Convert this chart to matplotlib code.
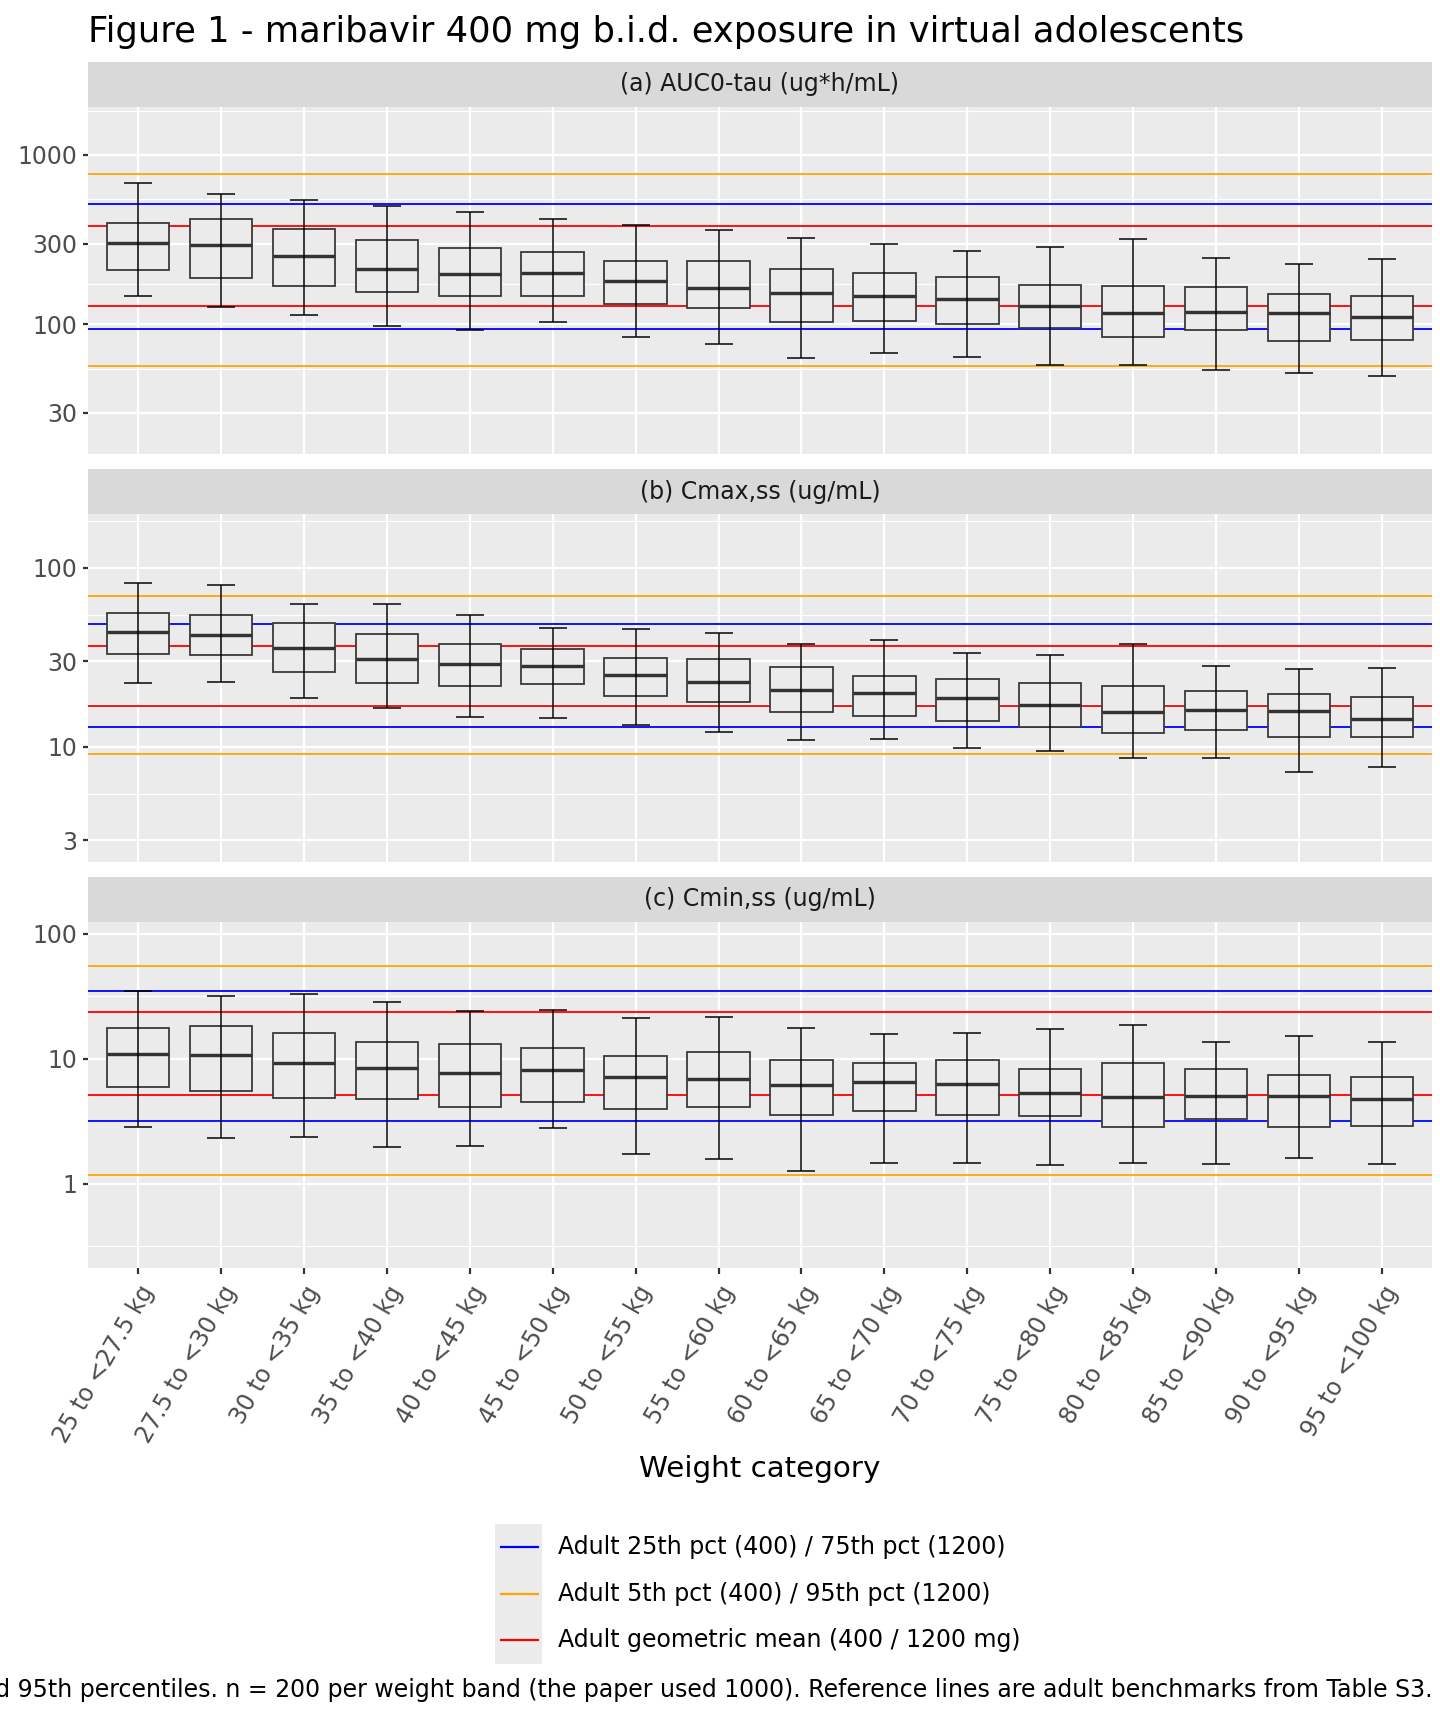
import matplotlib
matplotlib.use("Agg")
import numpy as np
import matplotlib.pyplot as plt
from matplotlib.ticker import FixedLocator, FixedFormatter, NullFormatter
from matplotlib.patches import Rectangle
from matplotlib.lines import Line2D

# ---------------- data ----------------
categories = ["25 to <27.5 kg", "27.5 to <30 kg", "30 to <35 kg", "35 to <40 kg",
              "40 to <45 kg", "45 to <50 kg", "50 to <55 kg", "55 to <60 kg",
              "60 to <65 kg", "65 to <70 kg", "70 to <75 kg", "75 to <80 kg",
              "80 to <85 kg", "85 to <90 kg", "90 to <95 kg", "95 to <100 kg"]

auc_p5 = [146, 126, 113, 97.7, 93, 103, 84.5, 76.2, 63, 67.8, 63.8, 57.8, 57.5, 53.5, 51.9, 49.8]
auc_q1 = [209, 189, 168, 156, 146, 147, 132, 125, 103, 105, 100, 95, 84, 92.7, 80.2, 81.1]
auc_med = [302, 293, 252, 212, 199, 201, 181, 163, 154, 147, 141, 128, 116, 118, 117, 110]
auc_q3 = [396, 421, 364, 316, 282, 266, 237, 237, 213, 200, 191, 171, 168, 166, 150, 146]
auc_p95 = [681, 592, 540, 500, 463, 417, 388, 361, 322, 299, 271, 286, 319, 247, 228, 244]

cmax_p5 = [22.6, 23.1, 18.7, 16.4, 14.6, 14.5, 13.3, 12.1, 10.9, 11.0, 9.84, 9.42, 8.64, 8.7, 7.24, 7.67]
cmax_q1 = [33.0, 32.4, 26.0, 22.7, 21.8, 22.5, 19.1, 17.8, 15.6, 14.9, 13.9, 12.9, 12.0, 12.4, 11.4, 11.4]
cmax_med = [43.6, 41.9, 35.4, 30.8, 29.0, 28.4, 25.0, 23.0, 20.7, 19.9, 18.6, 17.2, 15.7, 16.0, 15.9, 14.3]
cmax_q3 = [55.6, 54.2, 49.3, 42.5, 37.6, 35.2, 31.4, 30.9, 27.9, 24.8, 24.0, 22.7, 21.7, 20.6, 19.6, 18.9]
cmax_p95 = [82.4, 79.6, 62.9, 62.9, 54.5, 46.2, 45.4, 43.3, 37.5, 39.3, 33.2, 32.6, 37.5, 28.2, 27.2, 27.6]

cmin_p5 = [2.84, 2.33, 2.36, 1.96, 2.00, 2.77, 1.73, 1.57, 1.26, 1.47, 1.46, 1.42, 1.46, 1.43, 1.60, 1.44]
cmin_q1 = [5.93, 5.48, 4.88, 4.73, 4.13, 4.53, 3.94, 4.13, 3.54, 3.79, 3.54, 3.50, 2.84, 3.29, 2.86, 2.91]
cmin_med = [10.9, 10.7, 9.29, 8.47, 7.68, 8.07, 7.18, 6.84, 6.15, 6.50, 6.31, 5.31, 4.97, 5.00, 5.03, 4.79]
cmin_q3 = [17.7, 18.4, 16.0, 13.5, 13.1, 12.2, 10.5, 11.4, 9.75, 9.29, 9.75, 8.32, 9.23, 8.26, 7.36, 7.18]
cmin_p95 = [35.0, 31.7, 32.9, 28.2, 24.1, 24.7, 21.3, 21.7, 17.6, 15.9, 16.0, 17.3, 18.6, 13.5, 15.2, 13.7]

# reference lines: [400 mg value, 1200 mg value]
auc_ref_iqr = [93.4, 514]
auc_ref_p90 = [57.0, 776]
auc_ref_gm = [129, 379]
cmax_ref_iqr = [12.9, 48.4]
cmax_ref_p90 = [9.14, 69.5]
cmax_ref_gm = [16.9, 36.6]
cmin_ref_iqr = [3.16, 34.8]
cmin_ref_p90 = [1.17, 55.1]
cmin_ref_gm = [5.09, 23.5]

auc_yticks = [30, 100, 300, 1000]
cmax_yticks = [3, 10, 30, 100]
cmin_yticks = [1, 10, 100]

panel_titles = ["(a) AUC0-tau (ug*h/mL)", "(b) Cmax,ss (ug/mL)", "(c) Cmin,ss (ug/mL)"]
legend_labels = ["Adult 25th pct (400) / 75th pct (1200)",
                 "Adult 5th pct (400) / 95th pct (1200)",
                 "Adult geometric mean (400 / 1200 mg)"]
legend_colors = ["#0000FF", "#FFA500", "#FF0000"]

title = "Figure 1 - maribavir 400 mg b.i.d. exposure in virtual adolescents"
xlabel = "Weight category"
caption = ("Boxes show the median and interquartile range; whiskers show the 5th and 95th percentiles. "
           "n = 200 per weight band (the paper used 1000). Reference lines are adult benchmarks from Table S3.")

# ---------------- layout ----------------
W, H = 1440, 1728
fig = plt.figure(figsize=(10, 12), dpi=144)
fig.patch.set_facecolor("white")

FS = 11.8  # small text size (pt)

PL, PR = 88, 1432
panels = [
    dict(strip=(62, 107), plot=(107, 454), ylim=(10 ** 1.234, 10 ** 3.2835),
         stats=(auc_p5, auc_q1, auc_med, auc_q3, auc_p95),
         refs=(auc_ref_iqr, auc_ref_p90, auc_ref_gm), ticks=auc_yticks),
    dict(strip=(469, 514), plot=(514, 862), ylim=(10 ** 0.356, 10 ** 2.300),
         stats=(cmax_p5, cmax_q1, cmax_med, cmax_q3, cmax_p95),
         refs=(cmax_ref_iqr, cmax_ref_p90, cmax_ref_gm), ticks=cmax_yticks),
    dict(strip=(877, 922), plot=(922, 1268), ylim=(10 ** -0.674, 10 ** 2.094),
         stats=(cmin_p5, cmin_q1, cmin_med, cmin_q3, cmin_p95),
         refs=(cmin_ref_iqr, cmin_ref_p90, cmin_ref_gm), ticks=cmin_yticks),
]

x = np.arange(1, len(categories) + 1)
BOXW = 0.75

for i, p in enumerate(panels):
    t, b = p["plot"]
    ax = fig.add_axes([PL / W, 1 - b / H, (PR - PL) / W, (b - t) / H])
    ax.set_facecolor("#EBEBEB")
    for s in ax.spines.values():
        s.set_visible(False)
    ax.set_yscale("log")
    ax.set_xlim(0.4, len(categories) + 0.6)
    ax.set_ylim(*p["ylim"])

    ticks = p["ticks"]
    ax.yaxis.set_major_locator(FixedLocator(ticks))
    ax.yaxis.set_major_formatter(FixedFormatter([f"{v:g}" for v in ticks]))
    ext = [ticks[0] ** 2 / ticks[1]] + list(ticks) + [ticks[-1] ** 2 / ticks[-2]]
    minors = [np.sqrt(ext[k] * ext[k + 1]) for k in range(len(ext) - 1)]
    ax.yaxis.set_minor_locator(FixedLocator(minors))
    ax.yaxis.set_minor_formatter(NullFormatter())
    ax.xaxis.set_major_locator(FixedLocator(x))

    ax.grid(which="major", axis="both", color="white", lw=1.1, zorder=0)
    ax.grid(which="minor", axis="y", color="white", lw=0.55, zorder=0)
    ax.set_axisbelow(True)
    ax.tick_params(axis="y", which="major", length=2.75, width=1.1, color="#333333",
                   labelsize=FS, labelcolor="#4D4D4D", pad=2.5)
    ax.tick_params(axis="y", which="minor", length=0)

    if i < 2:
        ax.tick_params(axis="x", length=0, labelbottom=False)
    else:
        ax.set_xticklabels(categories, rotation=60, ha="right", va="top",
                           rotation_mode="anchor")
        ax.tick_params(axis="x", length=2.75, width=1.1, color="#333333",
                       labelsize=FS, labelcolor="#4D4D4D", pad=4)

    # reference lines
    for vals, col in zip(p["refs"], legend_colors):
        for v in vals:
            ax.axhline(v, color=col, lw=0.9, zorder=2)

    p5, q1, med, q3, p95 = [np.asarray(a, dtype=float) for a in p["stats"]]
    ax.bar(x, q3 - q1, bottom=q1, width=BOXW, color="#EBEBEB",
           edgecolor="#3A3A3A", linewidth=0.9, zorder=3)
    ax.hlines(med, x - BOXW / 2, x + BOXW / 2, colors="#333333", lw=1.7, zorder=4)
    ax.errorbar(x, med, yerr=[med - p5, p95 - med], fmt="none", ecolor="black",
                elinewidth=0.75, capsize=7, capthick=0.75, zorder=5)

    # strip
    st, sb = p["strip"]
    sax = fig.add_axes([PL / W, 1 - sb / H, (PR - PL) / W, (sb - st) / H])
    sax.set_facecolor("#D9D9D9")
    sax.set_xticks([])
    sax.set_yticks([])
    for s in sax.spines.values():
        s.set_visible(False)
    sax.text(0.5, 0.5, panel_titles[i], ha="center", va="center",
             fontsize=FS, color="#1A1A1A", transform=sax.transAxes)

# title, axis title, caption
fig.text(PL / W, 1 - 32 / H, title, ha="left", va="center", fontsize=17.6, color="black")
fig.text((PL + PR) / 2 / W, 1 - 1469 / H, xlabel, ha="center", va="center",
         fontsize=14.7, color="black")
fig.text(PR / W, 1 - 1690 / H, caption, ha="right", va="center", fontsize=FS, color="black")

# legend
fig.patches.append(Rectangle((495 / W, 1 - 1664 / H), 47 / W, 140 / H,
                             transform=fig.transFigure, facecolor="#EBEBEB",
                             edgecolor="none", zorder=1))
for k, (lab, col) in enumerate(zip(legend_labels, legend_colors)):
    yy = 1 - (1547 + 46.5 * k) / H
    fig.add_artist(Line2D([500.5 / W, 537.7 / W], [yy, yy], transform=fig.transFigure,
                          color=col, lw=1.1, zorder=2))
    fig.text(558 / W, yy, lab, ha="left", va="center", fontsize=FS, color="black")

fig.savefig("out.png", dpi=144, facecolor="white")
